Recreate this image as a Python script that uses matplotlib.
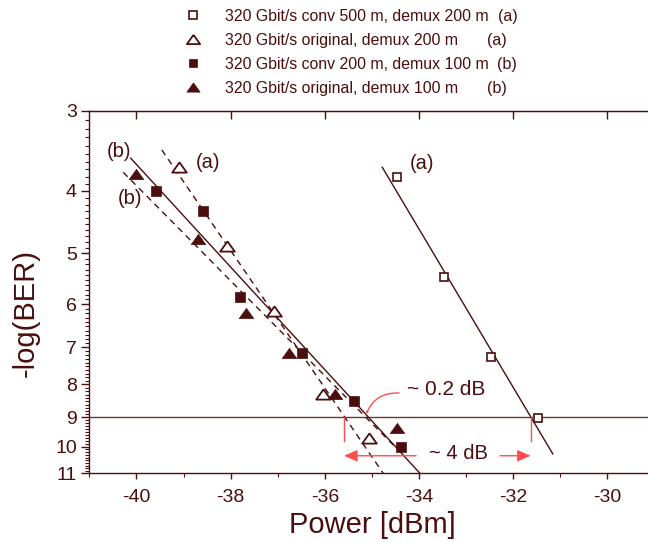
import matplotlib
matplotlib.use("Agg")
import matplotlib.pyplot as plt
import numpy as np
from matplotlib.lines import Line2D
from matplotlib.patches import FancyArrowPatch
from matplotlib.ticker import FixedLocator, FixedFormatter, NullFormatter

plt.rcParams['font.family'] = ['Liberation Sans', 'DejaVu Sans']

INK = '#4b0e0e'
RED = '#ff4d4d'
GRID9 = '#6b3535'

# ---- measured BER curves: received power [dBm] vs -log(BER) ----
conv500_power = [-34.47, -33.47, -32.47, -31.47]
conv500_q = [3.80, 5.44, 7.24, 9.03]

orig200_power = [-39.09, -38.08, -37.08, -36.04, -35.06]
orig200_q = [3.67, 4.88, 6.15, 8.28, 9.68]

conv200_power = [-39.58, -38.58, -37.80, -36.48, -35.38, -34.38]
conv200_q = [4.00, 4.30, 5.85, 7.14, 8.50, 10.01]

orig100_power = [-40.01, -38.69, -37.68, -36.77, -35.78, -34.47]
orig100_q = [3.76, 4.75, 6.20, 7.15, 8.28, 9.35]

# ---- fitted lines (end points) ----
fit_conv500_x = [-34.78, -31.16]
fit_conv500_y = [3.674, 10.26]
fit_orig200_x = [-39.46, -34.76]
fit_orig200_y = [3.453, 11.0]
fit_conv200_x = [-40.12, -33.98]
fit_conv200_y = [3.557, 11.0]
fit_orig100_x = [-40.28, -34.51]
fit_orig100_y = [3.741, 10.0]

legend_labels = [
    "320 Gbit/s conv 500 m, demux 200 m",
    "320 Gbit/s original, demux 200 m",
    "320 Gbit/s conv 200 m, demux 100 m",
    "320 Gbit/s original, demux 100 m",
]
legend_tags = ["(a)", "(a)", "(b)", "(b)"]

x_ticks = [-40, -38, -36, -34, -32, -30]
x_minor = [-41, -39, -37, -35, -33, -31, -29]
y_ticks = [3, 4, 5, 6, 7, 8, 9, 10, 11]
y_ticklabels = [str(v) for v in y_ticks]

ber_limit = 9            # -log(BER) reference level
pen_left = -35.59        # crossing of curve (a) original with BER 1e-9
pen_right = -31.63       # crossing of curve (a) conv 500 m with BER 1e-9

W, H = 648, 542
fig = plt.figure(figsize=(W / 100, H / 100), dpi=100)
ax_l, ax_r, ax_t, ax_b = 89.3, 654.5, 110.7, 473.3
ax = fig.add_axes([ax_l / W, 1 - ax_b / H, (ax_r - ax_l) / W, (ax_b - ax_t) / H])

# flat triangle marker used for both triangle series
tri = [(0, 0.7), (-1, -0.7), (1, -0.7), (0, 0.7)]

# fit lines
ax.plot(fit_conv500_x, fit_conv500_y, color=INK, lw=1.0, zorder=2)
ax.plot(fit_orig200_x, fit_orig200_y, color=INK, lw=1.0, dashes=(4.5, 3.5), zorder=2)
ax.plot(fit_conv200_x, fit_conv200_y, color=INK, lw=1.0, zorder=2)
ax.plot(fit_orig100_x, fit_orig100_y, color=INK, lw=1.0, dashes=(4.5, 3.5), zorder=2)

ax.axhline(ber_limit, color=GRID9, lw=1.0, zorder=1)

# data markers
ax.plot(conv500_power, conv500_q, ls='none', marker='s', ms=6.0, mfc='white',
        mec=INK, mew=1.2, zorder=4)
ax.plot(orig200_power, orig200_q, ls='none', marker=tri, ms=10.5, mfc='white',
        mec=INK, mew=1.3, zorder=4)
ax.plot(conv200_power, conv200_q, ls='none', marker='s', ms=7.8, mfc=INK,
        mec=INK, mew=0.5, zorder=4)
ax.plot(orig100_power, orig100_q, ls='none', marker=tri, ms=10.5, mfc=INK,
        mec=INK, mew=0.5, zorder=4)

# axes scales
ax.set_yscale('log')
ax.set_xlim(-41, -29)
ax.set_ylim(11, 3)
ax.yaxis.set_major_locator(FixedLocator(y_ticks))
ax.yaxis.set_major_formatter(FixedFormatter(y_ticklabels))
y_minor = [v for v in np.round(np.arange(3.0, 11.001, 0.1), 1) if abs(v - round(v)) > 1e-6]
ax.yaxis.set_minor_locator(FixedLocator(y_minor))
ax.yaxis.set_minor_formatter(NullFormatter())
ax.xaxis.set_major_locator(FixedLocator(x_ticks))
ax.xaxis.set_minor_locator(FixedLocator(x_minor))
ax.set_xticklabels([str(v) for v in x_ticks])

for side in ['left', 'bottom', 'top']:
    ax.spines[side].set_color(INK)
    ax.spines[side].set_linewidth(1.0)
ax.spines['right'].set_visible(False)

ax.tick_params(axis='y', which='major', direction='out', length=5.5, width=1.0,
               color=INK, labelcolor=INK, labelsize=14, pad=3.5)
ax.tick_params(axis='y', which='minor', direction='out', length=3.0, width=0.8, color=INK)
ax.tick_params(axis='x', which='major', direction='out', length=4.0, width=1.0,
               color=INK, labelcolor=INK, labelsize=14, pad=7.5)
ax.tick_params(axis='x', which='minor', direction='out', length=3.0, width=0.8, color=INK)

top = ax.secondary_xaxis('top')
top.set_xticks(x_ticks)
top.tick_params(direction='in', length=5.5, width=1.0, color=INK, labeltop=False)
top.spines['top'].set_color(INK)

# curve labels
lab = dict(color=INK, fontsize=14.5, ha='center', va='center', zorder=5)
ax.text(-40.36, 3.477, "(b)", **lab)
ax.text(-40.14, 4.106, "(b)", **lab)
ax.text(-38.47, 3.614, "(a)", **lab)
ax.text(-33.94, 3.622, "(a)", **lab)

# penalty annotations
ax.plot([pen_left, pen_left], [ber_limit, 9.81], color=RED, lw=1.0, zorder=3)
ax.plot([pen_right, pen_right], [ber_limit, 9.81], color=RED, lw=1.0, zorder=3)
arrow_y = 10.33
head = '-|>,head_length=0.8,head_width=0.35'
ax.annotate('', xy=(pen_left, arrow_y), xytext=(-34.06, arrow_y),
            arrowprops=dict(arrowstyle=head, color=RED, lw=1.0, shrinkA=0, shrinkB=0))
ax.annotate('', xy=(pen_right, arrow_y), xytext=(-32.28, arrow_y),
            arrowprops=dict(arrowstyle=head, color=RED, lw=1.0, shrinkA=0, shrinkB=0))
ax.text(-33.17, 10.45, "~ 4 dB", color=INK, fontsize=14.5, ha='center', va='baseline')

ax.text(-34.26, 8.32, "~ 0.2 dB", color=INK, fontsize=15, ha='left', va='baseline')
curve = FancyArrowPatch((-34.42, 8.25), (-35.12, 8.90),
                        connectionstyle='arc3,rad=0.35',
                        arrowstyle=head, color=RED, lw=1.0,
                        shrinkA=0, shrinkB=0, zorder=5)
ax.add_patch(curve)

# axis titles
fig.text(26 / W, 1 - 313 / H, "-log(BER)", rotation=90, ha='center', va='center',
         fontsize=21, color=INK)
fig.text(372.5 / W, 1 - 533.3 / H, "Power [dBm]", ha='center', va='baseline',
         fontsize=21, color=INK)

# legend above the plot
leg_marker_y = [15, 39.3, 63.3, 87.3]
leg_text_y = [20.7, 45.0, 69.0, 93.3]
leg_tag_x = [498, 487, 497, 487]
leg_styles = [
    dict(marker='s', ms=5.5, mfc='white', mec=INK, mew=1.2),
    dict(marker=tri, ms=9.5, mfc='white', mec=INK, mew=1.3),
    dict(marker='s', ms=6.0, mfc=INK, mec=INK, mew=0.5),
    dict(marker=tri, ms=9.5, mfc=INK, mec=INK, mew=0.5),
]
for lbl, tag, my, ty, tx, st in zip(legend_labels, legend_tags, leg_marker_y,
                                     leg_text_y, leg_tag_x, leg_styles):
    fig.add_artist(Line2D([193 / W], [1 - my / H], ls='none',
                          transform=fig.transFigure, **st))
    fig.text(225 / W, 1 - ty / H, lbl, ha='left', va='baseline', fontsize=11.4, color=INK)
    fig.text(tx / W, 1 - ty / H, tag, ha='left', va='baseline', fontsize=11.6, color=INK)

fig.savefig("out.png", dpi=100)
